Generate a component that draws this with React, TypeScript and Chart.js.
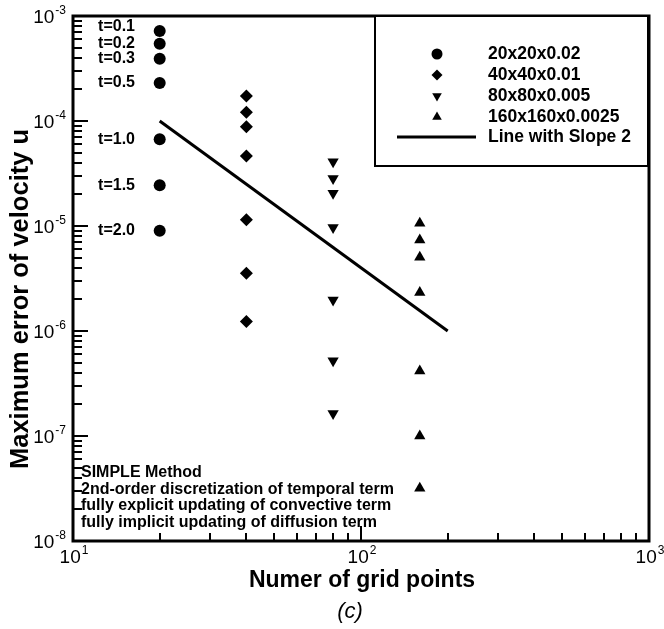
import React, { useEffect, useRef } from "react";
import { Chart, registerables } from "chart.js";

Chart.register(...registerables);

// ---- data ----
const gridPoints = [20, 40, 80, 160];
const seriesLabels = ["20x20x0.02", "40x40x0.01", "80x80x0.005", "160x160x0.0025"];
const slopeLabel = "Line with Slope 2";
const timeLabels = ["t=0.1", "t=0.2", "t=0.3", "t=0.5", "t=1.0", "t=1.5", "t=2.0"];

const err20 = [7.2e-4, 5.45e-4, 3.92e-4, 2.3e-4, 6.7e-5, 2.45e-5, 9.0e-6];
const err40 = [1.73e-4, 1.21e-4, 8.83e-5, 4.64e-5, 1.15e-5, 3.55e-6, 1.23e-6];
const err80 = [4.09e-5, 2.84e-5, 2.05e-5, 9.7e-6, 1.97e-6, 5.2e-7, 1.64e-7];
const err160 = [1.06e-5, 7.36e-6, 5.04e-6, 2.32e-6, 4.16e-7, 1.0e-7, 3.18e-8];

const slopeX = [20, 200];
const slopeY = [1e-4, 1e-6];

const xTickValues = [10, 100, 1000];
const xTickExps = ["1", "2", "3"];
const yTickValues = [1e-3, 1e-4, 1e-5, 1e-6, 1e-7, 1e-8];
const yTickExps = ["-3", "-4", "-5", "-6", "-7", "-8"];

const xTitle = "Numer of grid points";
const yTitle = "Maximum error of velocity u";
const captionText = "(c)";
const noteLines = [
  "SIMPLE Method",
  "2nd-order discretization of temporal term",
  "fully explicit updating of convective term",
  "fully implicit updating of diffusion term",
];

const FONT = '"Liberation Sans", Arial, Helvetica, sans-serif';

function drawMarker(ctx: CanvasRenderingContext2D, kind: string, x: number, y: number, r: number) {
  ctx.beginPath();
  if (kind === "circle") {
    ctx.arc(x, y, r, 0, Math.PI * 2);
  } else if (kind === "diamond") {
    ctx.moveTo(x, y - r);
    ctx.lineTo(x + r, y);
    ctx.lineTo(x, y + r);
    ctx.lineTo(x - r, y);
    ctx.closePath();
  } else if (kind === "down") {
    ctx.moveTo(x - r * 0.87, y - r * 0.5);
    ctx.lineTo(x + r * 0.87, y - r * 0.5);
    ctx.lineTo(x, y + r);
    ctx.closePath();
  } else {
    ctx.moveTo(x - r * 0.87, y + r * 0.5);
    ctx.lineTo(x + r * 0.87, y + r * 0.5);
    ctx.lineTo(x, y - r);
    ctx.closePath();
  }
  ctx.fill();
}

function drawPow(ctx: CanvasRenderingContext2D, exp: string, x: number, baseY: number, align: string) {
  ctx.font = `19px ${FONT}`;
  const w1 = ctx.measureText("10").width;
  ctx.font = `12px ${FONT}`;
  const w2 = ctx.measureText(exp).width;
  const total = w1 + w2 + 1;
  const x0 = align === "right" ? x - total : x - total / 2;
  ctx.textAlign = "left";
  ctx.textBaseline = "alphabetic";
  ctx.font = `19px ${FONT}`;
  ctx.fillText("10", x0, baseY);
  ctx.font = `12px ${FONT}`;
  ctx.fillText(exp, x0 + w1 + 1, baseY - 9);
}

const decorPlugin = {
  id: "decor",
  afterDraw(chart: any) {
    const ctx: CanvasRenderingContext2D = chart.ctx;
    const { left, right, top, bottom } = chart.chartArea;
    const xs = chart.scales.x;
    const ys = chart.scales.y;
    ctx.save();
    ctx.fillStyle = "#000";
    ctx.strokeStyle = "#000";

    // left axis ticks (inward)
    ctx.lineWidth = 2;
    for (let e = -8; e <= -4; e++) {
      for (let m = 1; m <= 9; m++) {
        const py = Math.round(ys.getPixelForValue(m * Math.pow(10, e)));
        const len = m === 1 ? 15 : 9;
        ctx.beginPath();
        ctx.moveTo(left, py);
        ctx.lineTo(left + len, py);
        ctx.stroke();
      }
    }
    // bottom axis ticks
    for (let e = 1; e <= 2; e++) {
      for (let m = 1; m <= 9; m++) {
        const px = Math.round(xs.getPixelForValue(m * Math.pow(10, e)));
        const len = m === 1 ? 15 : 8;
        ctx.beginPath();
        ctx.moveTo(px, bottom);
        ctx.lineTo(px, bottom - len);
        ctx.stroke();
      }
    }
    // frame
    ctx.lineWidth = 3;
    ctx.strokeRect(left, top, right - left, bottom - top);

    // tick labels
    yTickValues.forEach((v, i) => {
      const py = ys.getPixelForValue(v);
      drawPow(ctx, yTickExps[i], left - 7, py + 7, "right");
    });
    xTickValues.forEach((v, i) => {
      const px = xs.getPixelForValue(v);
      drawPow(ctx, xTickExps[i], px + 1, bottom + 22, "center");
    });

    // axis titles
    ctx.font = `bold 23px ${FONT}`;
    ctx.textAlign = "center";
    ctx.textBaseline = "alphabetic";
    ctx.fillText(xTitle, 362, 587);

    ctx.save();
    ctx.translate(28, 299);
    ctx.rotate(-Math.PI / 2);
    ctx.font = `bold 25.5px ${FONT}`;
    ctx.fillText(yTitle, 0, 0);
    ctx.restore();

    ctx.font = `italic 22px ${FONT}`;
    ctx.textAlign = "center";
    ctx.fillText(captionText, 350, 618);

    // time labels next to the 20x20 circles
    ctx.font = `bold 16px ${FONT}`;
    ctx.textAlign = "right";
    ctx.textBaseline = "middle";
    timeLabels.forEach((t, i) => {
      const py = ys.getPixelForValue(err20[i]) - (i === 0 ? 4 : 0);
      ctx.fillText(t, 135, py);
    });

    // note text
    ctx.textAlign = "left";
    ctx.textBaseline = "middle";
    ctx.font = `bold 16px ${FONT}`;
    noteLines.forEach((s, i) => {
      ctx.fillText(s, 81, 473 + i * 16.5);
    });

    // legend
    ctx.fillStyle = "#fff";
    ctx.fillRect(375, 16, 273, 150);
    ctx.fillStyle = "#000";
    ctx.lineWidth = 2;
    ctx.strokeRect(375, 16, 273, 150);
    const kinds = ["circle", "diamond", "down", "up"];
    const sizes = [5.5, 5.5, 5.5, 5.5];
    const rows = [54, 75, 96, 117, 137];
    ctx.font = `bold 17.5px ${FONT}`;
    ctx.textAlign = "left";
    ctx.textBaseline = "middle";
    kinds.forEach((k, i) => {
      drawMarker(ctx, k, 437, rows[i], sizes[i]);
      ctx.fillText(seriesLabels[i], 488, rows[i]);
    });
    ctx.lineWidth = 3;
    ctx.beginPath();
    ctx.moveTo(397, rows[4]);
    ctx.lineTo(476, rows[4]);
    ctx.stroke();
    ctx.fillText(slopeLabel, 488, rows[4]);

    ctx.restore();
  },
};

export default function App() {
  const ref = useRef<HTMLCanvasElement | null>(null);

  useEffect(() => {
    document.body.style.margin = "0";
    document.body.style.background = "#fff";
    const canvas = ref.current;
    if (!canvas) return;
    const mk = (vals: number[], gx: number) => vals.map((v) => ({ x: gx, y: v }));
    const chart = new Chart(canvas, {
      type: "scatter",
      data: {
        datasets: [
          {
            label: seriesLabels[0],
            data: mk(err20, gridPoints[0]),
            pointStyle: "circle",
            pointRadius: 6,
            backgroundColor: "#000",
            borderColor: "#000",
            borderWidth: 0,
          },
          {
            label: seriesLabels[1],
            data: mk(err40, gridPoints[1]),
            pointStyle: "rectRot",
            pointRadius: 6.5,
            backgroundColor: "#000",
            borderColor: "#000",
            borderWidth: 0,
          },
          {
            label: seriesLabels[2],
            data: mk(err80, gridPoints[2]),
            pointStyle: "triangle",
            rotation: 180,
            pointRadius: 6.5,
            backgroundColor: "#000",
            borderColor: "#000",
            borderWidth: 0,
          },
          {
            label: seriesLabels[3],
            data: mk(err160, gridPoints[3]),
            pointStyle: "triangle",
            pointRadius: 6.5,
            backgroundColor: "#000",
            borderColor: "#000",
            borderWidth: 0,
          },
          {
            label: slopeLabel,
            data: slopeX.map((x, i) => ({ x, y: slopeY[i] })),
            showLine: true,
            pointRadius: 0,
            borderColor: "#000",
            borderWidth: 3,
          } as any,
        ],
      },
      options: {
        animation: false,
        responsive: false,
        devicePixelRatio: 1,
        layout: { padding: { left: 73, top: 16, right: 15, bottom: 88 } },
        plugins: { legend: { display: false }, tooltip: { enabled: false } },
        scales: {
          x: { type: "logarithmic", min: 10, max: 1000, display: false },
          y: { type: "logarithmic", min: 1e-8, max: 1e-3, display: false },
        },
      },
      plugins: [decorPlugin],
    });
    return () => chart.destroy();
  }, []);

  return (
    <div style={{ width: 664, height: 629, background: "#fff" }}>
      <canvas ref={ref} width={664} height={629} style={{ display: "block" }} />
    </div>
  );
}
